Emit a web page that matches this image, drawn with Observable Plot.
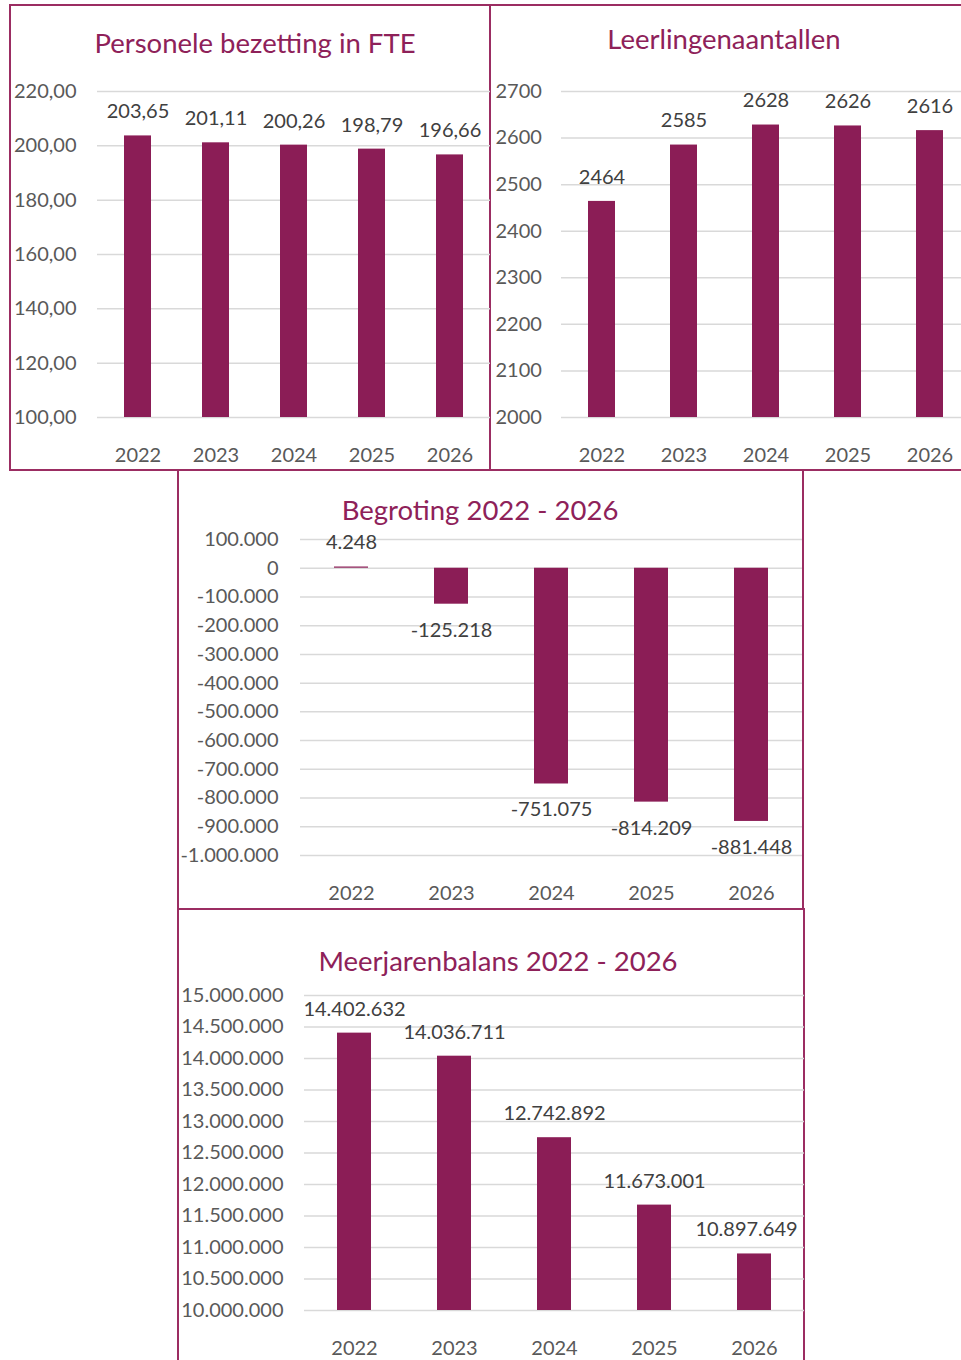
<!DOCTYPE html>
<html><head><meta charset="utf-8">
<script src="https://cdn.jsdelivr.net/npm/d3@7"></script>
<script src="https://cdn.jsdelivr.net/npm/@observablehq/plot@0.6"></script>
<style>
html,body{margin:0;padding:0;background:#fff;overflow:hidden;width:961px;height:1360px;}
body{position:relative;font-family:Lato,"Open Sans",sans-serif;}
.box{position:absolute;border:2px solid #9B2D62;box-sizing:border-box;}
.title{position:absolute;transform:translate(-50%,-50%);white-space:nowrap;color:#8E2159;font-size:27.5px;}
.chart{position:absolute;}
</style></head><body>
<script>
// ---- data ----
const years = ["2022", "2023", "2024", "2025", "2026"];
const fte = [203.65, 201.11, 200.26, 198.79, 196.66];
const pupils = [2464, 2585, 2628, 2626, 2616];
const budget = [4248, -125218, -751075, -814209, -881448];
const balance = [14402632, 14036711, 12742892, 11673001, 10897649];
const fteTicks = [100, 120, 140, 160, 180, 200, 220];
const pupilTicks = [2000, 2100, 2200, 2300, 2400, 2500, 2600, 2700];
const budgetTicks = [100000, 0, -100000, -200000, -300000, -400000, -500000, -600000, -700000, -800000, -900000, -1000000];
const balanceTicks = [10000000, 10500000, 11000000, 11500000, 12000000, 12500000, 13000000, 13500000, 14000000, 14500000, 15000000];
const titles = ["Personele bezetting in FTE", "Leerlingenaantallen", "Begroting 2022 - 2026", "Meerjarenbalans 2022 - 2026"];

const nl = d3.formatLocale({decimal: ",", thousands: ".", grouping: [3], currency: ["€", ""], minus: "-"});
const f2 = nl.format(",.2f");
const fInt = nl.format(",");
const fPlain = d => String(d);

const BAR = "#8B1D56";
const FS = 20;

function addBox(l, t, w, h) {
  const d = document.createElement("div");
  d.className = "box";
  Object.assign(d.style, {left: l + "px", top: t + "px", width: w + "px", height: h + "px"});
  document.body.appendChild(d);
}
function addTitle(text, cx, cy) {
  const d = document.createElement("div");
  d.className = "title";
  d.textContent = text;
  Object.assign(d.style, {left: cx + "px", top: cy + "px"});
  document.body.appendChild(d);
}
function addChart(o) {
  const rows = years.map((y, i) => ({year: y, v: o.values[i], last: i === years.length - 1}));
  const yAxisOpts = o.leftAlign
    ? {ticks: o.ticks, tickSize: 0, tickPadding: 0, textAnchor: "start", dx: o.leftDx, tickFormat: o.tickFmt, fontSize: FS}
    : {ticks: o.ticks, tickSize: 0, tickPadding: o.yPad, tickFormat: o.tickFmt, fontSize: FS};
  const lastDx = o.lastDx || 0;
  const svg = Plot.plot({
    width: o.width, height: o.height,
    marginLeft: o.ml, marginRight: o.mr, marginTop: o.mt, marginBottom: o.mb,
    style: {fontFamily: "Lato, 'Open Sans', sans-serif", fontSize: FS + "px", color: "#595959", overflow: "visible", background: "transparent"},
    x: {domain: years, paddingInner: o.pad, paddingOuter: o.pad / 2, label: null},
    y: {domain: o.domain, label: null},
    marks: [
      Plot.ruleY(o.ticks, {stroke: "#d9d9d9", strokeWidth: 1.5}),
      Plot.barY(rows, {x: "year", y1: o.base, y2: "v", fill: BAR}),
      Plot.text(rows.filter(d => d.v >= 0 && !d.last), {x: "year", y: "v", text: d => o.labelFmt(d.v), dy: -24, fill: "#404040", fontSize: FS}),
      Plot.text(rows.filter(d => d.v >= 0 && d.last), {x: "year", y: "v", text: d => o.labelFmt(d.v), dy: -24, dx: lastDx, fill: "#404040", fontSize: FS}),
      Plot.text(rows.filter(d => d.v < 0), {x: "year", y: "v", text: d => o.labelFmt(d.v), dy: 26, fill: "#404040", fontSize: FS}),
      Plot.axisX({tickSize: 0, tickPadding: 30, fontSize: FS}),
      Plot.axisY(yAxisOpts)
    ]
  });
  svg.classList.add("chart");
  svg.style.left = o.left + "px";
  svg.style.top = o.top + "px";
  svg.style.position = "absolute";
  document.body.appendChild(svg);
}

// panel borders
addBox(9, 4, 482, 467);
addBox(489, 4, 480, 467);
addBox(177, 469, 627, 441);
addBox(177, 908, 628, 460);

addChart({values: fte, ticks: fteTicks, domain: [100, 220], base: 100, tickFmt: f2, labelFmt: f2,
  left: 9, top: 60, width: 481, height: 410, ml: 88, mr: 0, mt: 31, mb: 53, pad: 0.657, yPad: 21});
addChart({values: pupils, ticks: pupilTicks, domain: [2000, 2700], base: 2000, tickFmt: fPlain, labelFmt: fPlain,
  left: 490, top: 60, width: 481, height: 410, ml: 71, mr: 0, mt: 31, mb: 53, pad: 0.67, leftAlign: true, leftDx: -66});
addChart({values: budget, ticks: budgetTicks, domain: [-1000000, 100000], base: 0, tickFmt: fInt, labelFmt: fInt,
  left: 177, top: 500, width: 626, height: 400, ml: 123, mr: 1, mt: 39, mb: 45, pad: 0.66, yPad: 22});
addChart({values: balance, ticks: balanceTicks, domain: [10000000, 15000000], base: 10000000, tickFmt: fInt, labelFmt: fInt,
  left: 177, top: 975, width: 627, height: 385, ml: 127, mr: 0, mt: 20, mb: 50, pad: 0.66, yPad: 21, lastDx: -8});

addTitle(titles[0], 255, 42);
addTitle(titles[1], 724, 38);
addTitle(titles[2], 480, 509);
addTitle(titles[3], 498, 960);
</script>
</body></html>
